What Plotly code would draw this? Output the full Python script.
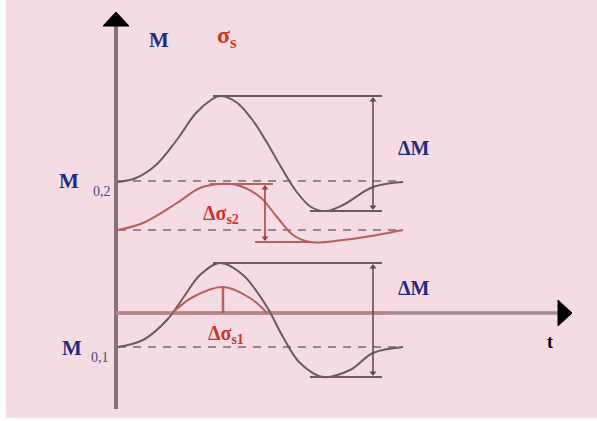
import plotly.graph_objects as go

# ---------------- data (schematic units: t horizontal, M / sigma vertical) -------------
# upper moment curve (starting at M0,2)
m2_t = [2, 20, 40, 60, 80, 95, 104, 120, 135, 150, 165, 180, 195, 210, 227, 257, 287]
m2_v = [131, 135, 148, 172, 200, 213, 217, 211, 195, 172, 146, 122, 106, 102, 108, 126, 131]
# lower moment curve (starting at M0,1)
m1_t = [2, 27, 51, 67, 84, 104, 127, 151, 167, 184, 207, 234, 257, 287]
m1_v = [-34, -27, -7, 15, 38, 50, 38, 6, -24, -50, -64, -57, -40, -34]
# stress curve sigma_s2
s2_t = [2, 27, 61, 84, 104, 121, 144, 161, 177, 194, 227, 261, 287]
s2_v = [83, 90, 110, 125, 129, 128, 116, 96, 78, 71, 73, 78, 83]
# stress hump sigma_s1
s1_t = [56, 77, 107, 134, 151]
s1_v = [0, 16, 26, 15, 0]

# reference levels (dashed)
levels = [132, 83, -34]
level_t = [2, 287]

# dimension markers
dm2_top, dm2_bot = 217, 102
ds2_top, ds2_bot = 129, 71
dm1_top, dm1_bot = 50, -64
ds1_top = 26
dim_t = 257
ds2_t = 149
ds1_t = 107
flat_top_t = [97, 266]
flat_bot_t = [194, 266]
s2_top_t = [94, 157]
s2_bot_t = [139, 194]

# axes
v_axis = [-96, 287]
h_axis = [0, 442]
sig_base_t = [2, 274]

# colours
PINK = "#f5dbe3"
GRAY = "#6b5a62"
AXIS = "#85737b"
RED = "#b9605a"
REDTXT = "#c8372d"
NAVY = "#1d2d7c"
DASH = "#7a6870"

fig = go.Figure()

def line(x, y, color, width=2, dash=None, shape="linear"):
    fig.add_trace(go.Scatter(x=x, y=y, mode="lines", hoverinfo="skip", showlegend=False,
                             line=dict(color=color, width=width, dash=dash, shape=shape)))

# axes
line([0, 0], v_axis, AXIS, 4)
line(h_axis, [0, 0], "#a08c94", 3.5)
line(sig_base_t, [0, 0], "#b8847f", 3)
# arrow heads
fig.add_trace(go.Scatter(x=[-13, 13, 0, -13], y=[v_axis[1], v_axis[1], v_axis[1] + 14, v_axis[1]],
                         mode="lines", fill="toself", fillcolor="black", line=dict(color="black", width=1),
                         hoverinfo="skip", showlegend=False))
fig.add_trace(go.Scatter(x=[h_axis[1], h_axis[1], h_axis[1] + 14, h_axis[1]], y=[13, -13, 0, 13],
                         mode="lines", fill="toself", fillcolor="black", line=dict(color="black", width=1),
                         hoverinfo="skip", showlegend=False))

# dashed reference levels
for lv in levels:
    line(level_t, [lv, lv], DASH, 1.5, dash="8px,7px")

# curves
line(m2_t, m2_v, GRAY, 2, shape="spline")
line(m1_t, m1_v, GRAY, 2, shape="spline")
line(s2_t, s2_v, RED, 2, shape="spline")
line(s1_t, s1_v, RED, 2, shape="spline")

# flat top / bottom lines
line(flat_top_t, [dm2_top, dm2_top], GRAY, 2)
line(flat_bot_t, [dm2_bot, dm2_bot], GRAY, 2)
line(flat_top_t, [dm1_top, dm1_top], GRAY, 2)
line(flat_bot_t, [dm1_bot, dm1_bot], GRAY, 2)
line(s2_top_t, [ds2_top, ds2_top], RED, 2)
line(s2_bot_t, [ds2_bot, ds2_bot], RED, 2)

# dimension lines
def dim(t, lo, hi, color):
    fig.add_trace(go.Scatter(x=[t, t], y=[lo, hi], mode="lines+markers", hoverinfo="skip",
                             showlegend=False, line=dict(color=color, width=1.5),
                             marker=dict(symbol=["triangle-down", "triangle-up"], size=6, color=color)))

dim(dim_t, dm2_bot + 4, dm2_top - 4, "#5a4650")
dim(dim_t, dm1_bot + 4, dm1_top - 4, "#5a4650")
dim(ds2_t, ds2_bot + 4, ds2_top - 4, "#9c3e38")
line([ds1_t, ds1_t], [0, ds1_top], RED, 2.5)

# pink panel
fig.add_shape(type="rect", xref="x", yref="y", x0=-110, x1=481, y0=-105, y1=313,
              fillcolor=PINK, line=dict(width=0), layer="below")

SERIF = "Liberation Serif"
def txt(x, y, s, size, color, xanchor="center"):
    fig.add_annotation(x=x, y=y, xref="x", yref="y", text=s, showarrow=False,
                       xanchor=xanchor, yanchor="middle",
                       font=dict(family=SERIF, size=size, color=color))

txt(43, 273, "<b>M</b>", 21, NAVY)
txt(111, 276, "<b>σ<sub>s</sub></b>", 24, REDTXT)
txt(298, 165, "<b>ΔM</b>", 20, NAVY)
txt(298, 25, "<b>ΔM</b>", 20, NAVY)
txt(-47, 132, "<b>M</b>", 21, NAVY)
txt(-14, 122, "0,2", 14, "#4a4a86")
txt(-44, -35, "<b>M</b>", 21, NAVY)
txt(-16, -44, "0,1", 14, "#4a4a86")
txt(105, 99, "<b>Δσ<sub>s2</sub></b>", 20, REDTXT)
txt(110, -21, "<b>Δσ<sub>s1</sub></b>", 20, REDTXT)
txt(434, -29, "<b>t</b>", 18, "black")

fig.update_layout(
    width=597, height=421,
    margin=dict(l=0, r=0, t=0, b=0),
    paper_bgcolor="white", plot_bgcolor="white",
    xaxis=dict(range=[-116, 481], visible=False, fixedrange=True),
    yaxis=dict(range=[-108, 313], visible=False, fixedrange=True),
    showlegend=False,
)

fig.write_html("out.html", config={"displayModeBar": False},
               post_script="document.body.style.margin='0';")
